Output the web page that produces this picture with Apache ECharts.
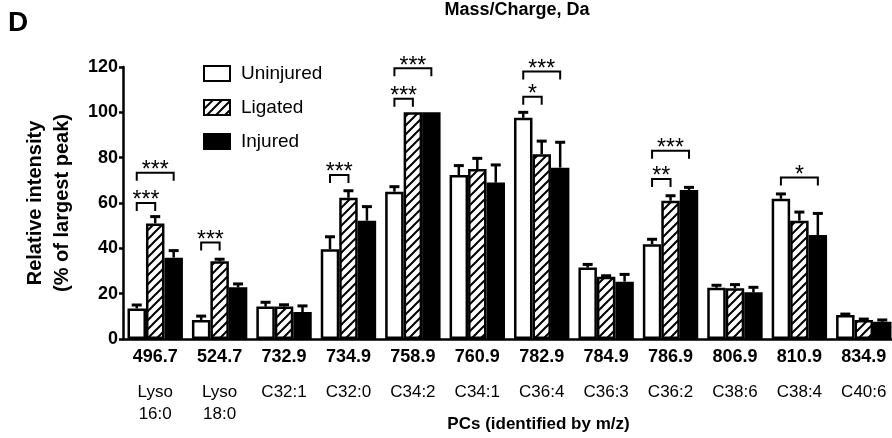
<!DOCTYPE html>
<html>
<head>
<meta charset="utf-8">
<script src="https://cdn.jsdelivr.net/npm/echarts@6/dist/echarts.min.js"></script>
<style>
  html, body { margin: 0; padding: 0; background: #fff; }
  #chart { width: 892px; height: 438px; }
</style>
</head>
<body>
<div id="chart"></div>
<script>
// m/z categories and lipid identities
const mz = ['496.7', '524.7', '732.9', '734.9', '758.9', '760.9', '782.9', '784.9', '786.9', '806.9', '810.9', '834.9']
const lipids = ['Lyso\n16:0', 'Lyso\n18:0', 'C32:1', 'C32:0', 'C34:2', 'C34:1', 'C36:4', 'C36:3', 'C36:2', 'C38:6', 'C38:4', 'C40:6']

// mean relative intensity (% of largest peak)
const uninjured = [13.5, 8.4, 14.3, 39.6, 65, 72.3, 97.6, 31.5, 41.8, 22.6, 61.9, 10.6]
const ligated = [51, 34.3, 14.3, 62.3, 100, 75, 81.5, 27.5, 61, 22.4, 52.2, 8.4]
const injured = [35.9, 22.8, 11.9, 52.2, 100, 69, 75.6, 25.3, 65.7, 20.6, 45.9, 7.6]

// upper error (SEM)
const uninjuredErr = [1.5, 1.7, 1.9, 5.5, 2.2, 4.2, 2.4, 1.4, 2.2, 1.1, 2.1, 0.4]
const ligatedErr = [3, 0.9, 0.8, 3.1, 0, 4.7, 5.8, 0.4, 2.2, 1.6, 3.8, 0.4]
const injuredErr = [3.1, 1.5, 2.7, 6.2, 0, 7.8, 11.2, 3.2, 1.2, 2.2, 9.5, 0.8]

// significance brackets: [category, fromBar, toBar, height]
const brackets = [
  [0, 0, 1, 60], [0, 0, 2, 73.4], [1, 0, 1, 42.6], [3, 0, 1, 72.3],
  [4, 0, 1, 106], [4, 0, 2, 119.4], [6, 0, 1, 106.9], [6, 0, 2, 118],
  [8, 0, 1, 70.6], [8, 0, 2, 83], [10, 0, 2, 71.2],
]
const bracketLabels = ['***', '***', '***', '***', '***', '***', '*', '***', '**', '***', '*']

const yTicks = { min: 0, max: 120, interval: 20 }

const FONT = "'Liberation Sans', Arial, Helvetica, sans-serif"
const GAP = 0.14

// hatch pattern for ligated bars
const hatch = (() => {
  const s = 9
  const c = document.createElement('canvas')
  c.width = s; c.height = s
  const ctx = c.getContext('2d')
  ctx.fillStyle = '#fff'
  ctx.fillRect(0, 0, s, s)
  ctx.strokeStyle = '#000'
  ctx.lineWidth = 2
  ctx.beginPath()
  ctx.moveTo(-2, s + 2); ctx.lineTo(s + 2, -2)
  ctx.moveTo(-2, 2); ctx.lineTo(2, -2)
  ctx.moveTo(s - 2, s + 2); ctx.lineTo(s + 2, s - 2)
  ctx.stroke()
  return c
})()

const groups = [uninjured, ligated, injured]
const errs = [uninjuredErr, ligatedErr, injuredErr]
const errData = []
groups.forEach((g, k) => g.forEach((v, i) => errData.push([i, k, v, errs[k][i]])))

const chart = echarts.init(document.getElementById('chart'), null, { renderer: 'canvas' })

const barStyle = (color) => ({ color, borderColor: '#000', borderWidth: 2.5 })

const renderErr = (params, api) => {
  const cat = api.value(0), k = api.value(1), mean = api.value(2), err = api.value(3)
  if (!(err > 0)) return
  const bw = api.size([1, 0])[0] * (1 - GAP) / 3
  const base = api.coord([cat, mean])
  const top = api.coord([cat, mean + err])
  const x = base[0] + (k - 1) * bw
  return {
    type: 'group',
    children: [
      { type: 'line', shape: { x1: x, y1: base[1], x2: x, y2: top[1] }, style: { stroke: '#000', lineWidth: 2.5 } },
      { type: 'line', shape: { x1: x - 5, y1: top[1], x2: x + 5, y2: top[1] }, style: { stroke: '#000', lineWidth: 3 } },
    ],
  }
}

const renderBracket = (params, api) => {
  const cat = api.value(0), a = api.value(1), b = api.value(2), h = api.value(3)
  const bw = api.size([1, 0])[0] * (1 - GAP) / 3
  const p = api.coord([cat, h])
  const x1 = p[0] + (a - 1) * bw, x2 = p[0] + (b - 1) * bw, y = p[1]
  return {
    type: 'group',
    children: [
      { type: 'polyline', shape: { points: [[x1, y + 8], [x1, y], [x2, y], [x2, y + 8]] }, style: { stroke: '#000', lineWidth: 2, fill: null } },
      { type: 'text', style: { x: (x1 + x2) / 2, y: y - 2, text: bracketLabels[params.dataIndex], font: '23px ' + FONT, fill: '#000', align: 'center', verticalAlign: 'middle' } },
    ],
  }
}

chart.setOption({
  backgroundColor: '#fff',
  animation: false,
  title: [
    { text: 'D', left: 8, top: 9, padding: 0, textStyle: { fontSize: 28, fontWeight: 'bold', fontFamily: FONT, color: '#000' } },
    { text: 'Mass/Charge, Da', left: 517, top: 1, padding: 0, textAlign: 'center', textStyle: { fontSize: 18, fontWeight: 'bold', fontFamily: FONT, color: '#000' } },
  ],
  legend: {
    data: ['Uninjured', 'Ligated', 'Injured'],
    orient: 'vertical', left: 203, top: 64, padding: 0,
    icon: 'rect', itemWidth: 26, itemHeight: 15, itemGap: 15,
    textStyle: { fontSize: 19, fontFamily: FONT, color: '#000', padding: [0, 0, 0, 6] },
  },
  grid: { left: 123, right: -4, top: 67, bottom: 99, outerBoundsMode: 'none', containLabel: false },
  xAxis: {
    type: 'category', data: mz,
    axisLine: { lineStyle: { color: '#000', width: 2.5 } },
    axisTick: { alignWithLabel: true, length: 6, lineStyle: { color: '#000', width: 2.5 } },
    axisLabel: {
      interval: 0, margin: 8, color: '#000',
      formatter: (v, i) => `{m|${v}}\n{s| }\n` + lipids[i].split('\n').map(t => `{n|${t}}`).join('\n'),
      rich: {
        m: { fontSize: 18, fontWeight: 'bold', fontFamily: FONT, lineHeight: 20 },
        s: { fontSize: 10, lineHeight: 14 },
        n: { fontSize: 17, fontFamily: FONT, lineHeight: 22 },
      },
    },
    name: 'PCs (identified by m/z)', nameLocation: 'middle', nameGap: 85, nameMoveOverlap: false,
    nameTextStyle: { fontSize: 17, fontWeight: 'bold', fontFamily: FONT, color: '#000', padding: [0, 0, 0, 58], verticalAlign: 'middle', lineHeight: 20 },
  },
  yAxis: {
    type: 'value', ...yTicks,
    axisLine: { show: true, lineStyle: { color: '#000', width: 2.5 } },
    axisTick: { show: true, length: 4, lineStyle: { color: '#000', width: 2.5 } },
    axisLabel: { fontSize: 18, fontWeight: 'bold', fontFamily: FONT, color: '#000', margin: 5 },
    splitLine: { show: false },
    name: 'Relative intensity\n(% of largest peak)', nameLocation: 'middle', nameGap: 47, nameMoveOverlap: false,
    nameTextStyle: { fontSize: 20, fontWeight: 'bold', fontFamily: FONT, color: '#000', lineHeight: 27 },
  },
  series: [
    { name: 'Uninjured', type: 'bar', data: uninjured, barGap: 0, barCategoryGap: GAP * 100 + '%', itemStyle: barStyle('#fff') },
    { name: 'Ligated', type: 'bar', data: ligated, barGap: 0, barCategoryGap: GAP * 100 + '%', itemStyle: barStyle({ image: hatch, repeat: 'repeat' }) },
    { name: 'Injured', type: 'bar', data: injured, barGap: 0, barCategoryGap: GAP * 100 + '%', itemStyle: barStyle('#000') },
    { type: 'custom', data: errData, renderItem: renderErr, z: 5, silent: true, encode: { x: 0, y: 2 } },
    { type: 'custom', data: brackets, renderItem: renderBracket, z: 5, silent: true, clip: false, encode: { x: 0, y: 3 } },
  ],
})
</script>
</body>
</html>
